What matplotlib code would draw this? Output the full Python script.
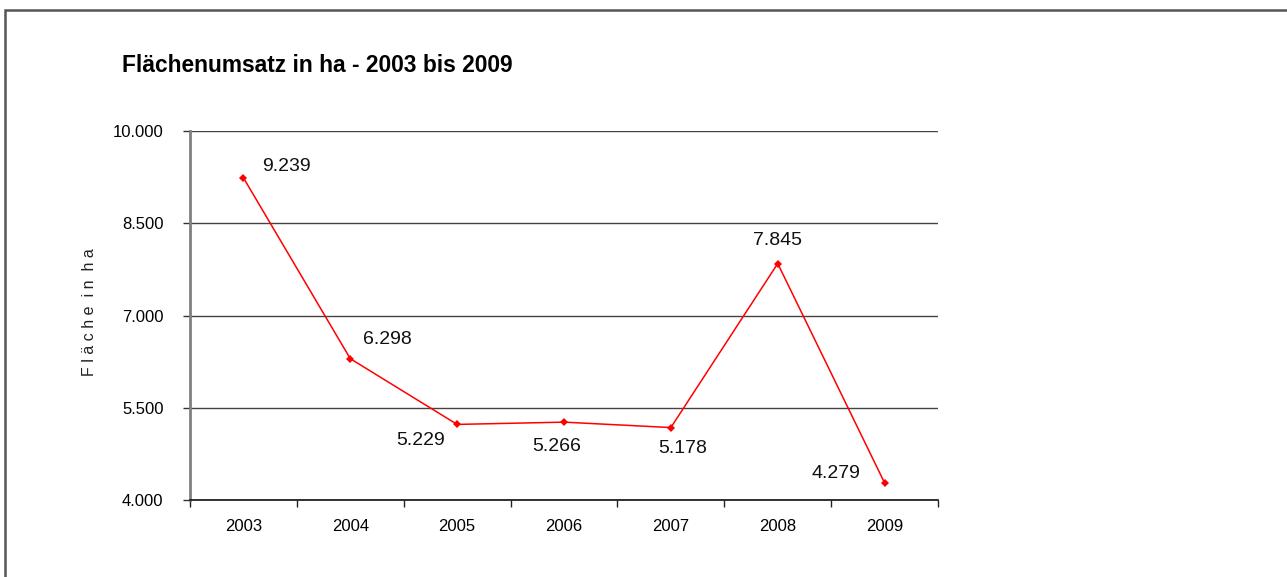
import numpy as np
import matplotlib.pyplot as plt
from matplotlib.patches import Rectangle

plt.rcParams['font.family'] = ['Liberation Sans', 'DejaVu Sans']

years = ["2003", "2004", "2005", "2006", "2007", "2008", "2009"]
area_ha = [9239, 6298, 5229, 5266, 5178, 7845, 4279]
value_labels = ["9.239", "6.298", "5.229", "5.266", "5.178", "7.845", "4.279"]
yticks = [4000, 5500, 7000, 8500, 10000]
ytick_labels = ["4.000", "5.500", "7.000", "8.500", "10.000"]

# label offsets (pixels) relative to each point
label_offsets = [(43, 11), (37, 19), (-37, -16), (-7, -24), (12, -21), (0, 23), (-49, 9)]

W, H = 1287, 577
fig = plt.figure(figsize=(W / 100, H / 100), dpi=100)
ax = fig.add_axes([190 / W, 77 / H, (938 - 190) / W, (500 - 131) / H])

# outer frame of the chart area
fig.patches.append(Rectangle((4.5 / W, -0.1), 1.2, 1 - 9.5 / H + 0.1,
                             transform=fig.transFigure, fill=False,
                             edgecolor='#555555', linewidth=1.8))

x = np.arange(len(years))
ax.plot(x, area_ha, color='#ff0000', linewidth=1.1, marker='D',
        markersize=4.5, markeredgewidth=0, zorder=3)

for xi, yi, lab, off in zip(x, area_ha, value_labels, label_offsets):
    ax.annotate(lab, (xi, yi), xytext=off, textcoords='offset pixels',
                ha='center', va='center', fontsize=14, color='#111111')

ax.set_xlim(-0.5, len(years) - 0.5)
ax.set_ylim(4000, 10000)
ax.set_yticks(yticks)
ax.set_yticklabels(ytick_labels, fontsize=12)
ax.set_xticks(x)
ax.set_xticklabels(years, fontsize=12)
ax.set_xticks(np.arange(len(years) + 1) - 0.5, minor=True)
ax.tick_params(axis='x', which='major', length=0, pad=14)
ax.tick_params(axis='x', which='minor', length=5, width=1, color='#222222')
ax.tick_params(axis='y', length=5, width=1, pad=14, color='#333333')

ax.grid(axis='y', color='#444444', linewidth=1)
ax.set_axisbelow(True)
for s in ['top', 'right']:
    ax.spines[s].set_visible(False)
ax.spines['left'].set_color('#808080')
ax.spines['left'].set_linewidth(2)
ax.spines['bottom'].set_color('#111111')
ax.spines['bottom'].set_linewidth(1.2)

fig.text(89 / W, 1 - 312 / H, "F l ä c h e  i n  h a", rotation=90,
         ha='center', va='center', fontsize=11.5, color='#222222')
fig.text(122 / W, 1 - 65 / H, "Flächenumsatz in ha - 2003 bis 2009",
         ha='left', va='center', fontsize=16.4, fontweight='bold')

fig.savefig("out.png", dpi=100)
